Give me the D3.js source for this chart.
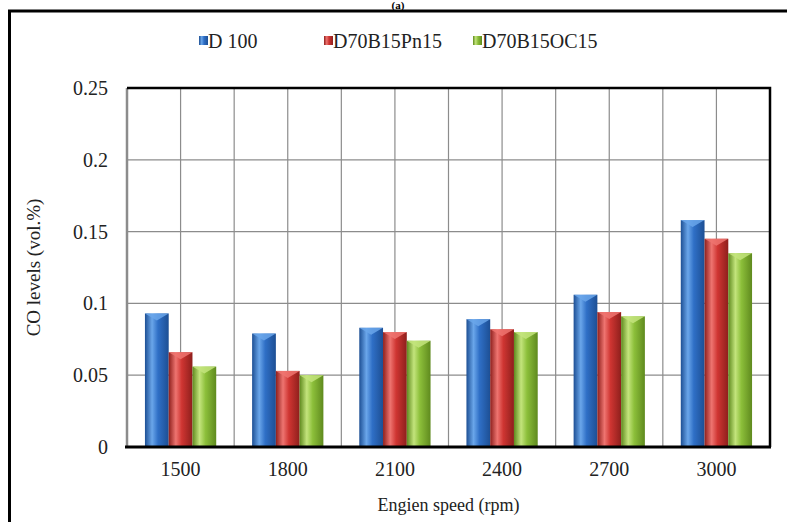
<!DOCTYPE html>
<html>
<head>
<meta charset="utf-8">
<script src="https://cdn.jsdelivr.net/npm/d3@7/dist/d3.min.js"></script>
<style>
  body { margin: 0; background: #fff; }
  svg { display: block; font-family: "Liberation Serif", "Times New Roman", serif; }
</style>
</head>
<body>
<div id="chart"></div>
<script>
// data
const speeds = ['1500', '1800', '2100', '2400', '2700', '3000'];
const seriesNames = ['D 100', 'D70B15Pn15', 'D70B15OC15'];
const d100 = [0.093, 0.079, 0.083, 0.089, 0.106, 0.158];
const pn15 = [0.066, 0.053, 0.080, 0.082, 0.094, 0.145];
const oc15 = [0.056, 0.050, 0.074, 0.080, 0.091, 0.135];
const yTicks = [0, 0.05, 0.1, 0.15, 0.2, 0.25];

const width = 787;
const height = 522;
const margin = { top: 88, right: 17, bottom: 75, left: 127 };

// colours per series: edge, mid, highlight
const palette = [
  { edge: '#1d4f94', mid: '#2f6fc6', light: '#6aa6ea' },
  { edge: '#8e1f1c', mid: '#cf3532', light: '#ee7470' },
  { edge: '#5f8a1e', mid: '#8cbf3a', light: '#c3e47c' }
];

const svg = d3.select('#chart').append('svg')
  .attr('width', width)
  .attr('height', height);

// gradients for the 3d look
const defs = svg.append('defs');
palette.forEach((c, i) => {
  const g = defs.append('linearGradient')
    .attr('id', 'grad' + i)
    .attr('x1', '0%').attr('x2', '100%').attr('y1', '0%').attr('y2', '0%');
  g.append('stop').attr('offset', '0%').attr('stop-color', c.edge);
  g.append('stop').attr('offset', '30%').attr('stop-color', c.light);
  g.append('stop').attr('offset', '55%').attr('stop-color', c.mid);
  g.append('stop').attr('offset', '100%').attr('stop-color', c.edge);
});

// outer frame
svg.append('rect')
  .attr('x', 9.5).attr('y', 11)
  .attr('width', 800).attr('height', 600)
  .attr('fill', 'none')
  .attr('stroke', '#000')
  .attr('stroke-width', 3);

// panel label
svg.append('text')
  .attr('x', 398)
  .attr('y', 9)
  .attr('text-anchor', 'middle')
  .attr('font-weight', 'bold')
  .attr('font-size', 11)
  .text('(a)');

const x0 = d3.scaleBand()
  .domain(speeds)
  .range([margin.left, width - margin.right])
  .padding(0);

const groupW = x0.bandwidth() * 0.665;
const x1 = d3.scaleBand()
  .domain(seriesNames)
  .range([(x0.bandwidth() - groupW) / 2, (x0.bandwidth() + groupW) / 2]);

const y = d3.scaleLinear()
  .domain([0, 0.25])
  .range([height - margin.bottom, margin.top]);

const plotL = margin.left;
const plotR = width - margin.right;
const plotT = margin.top;
const plotB = height - margin.bottom;

// horizontal grid
svg.append('g')
  .selectAll('line')
  .data(yTicks)
  .enter()
  .append('line')
  .attr('x1', plotL).attr('x2', plotR)
  .attr('y1', d => y(d)).attr('y2', d => y(d))
  .attr('stroke', '#8c8c8c')
  .attr('stroke-width', 1.2);

// vertical grid at category edges and centres
const vLines = [];
speeds.forEach(s => {
  vLines.push(x0(s));
  vLines.push(x0(s) + x0.bandwidth() / 2);
});
svg.append('g')
  .selectAll('line')
  .data(vLines.slice(1))
  .enter()
  .append('line')
  .attr('x1', d => d).attr('x2', d => d)
  .attr('y1', plotT).attr('y2', plotB)
  .attr('stroke', '#8c8c8c')
  .attr('stroke-width', 1.2);

// left axis line (grey)
svg.append('line')
  .attr('x1', plotL).attr('x2', plotL)
  .attr('y1', plotT).attr('y2', plotB)
  .attr('stroke', '#8c8c8c')
  .attr('stroke-width', 2.5);

// bars
const rows = speeds.map((s, i) => ({ speed: s, values: [d100[i], pn15[i], oc15[i]] }));
const bw = x1.bandwidth();
const groups = svg.append('g')
  .selectAll('g')
  .data(rows)
  .enter()
  .append('g')
  .attr('transform', d => `translate(${x0(d.speed)},0)`);

groups.selectAll('rect')
  .data(d => d.values.map((v, k) => ({ k, v })))
  .enter()
  .append('rect')
  .attr('x', d => x1(seriesNames[d.k]))
  .attr('y', d => y(d.v))
  .attr('width', bw)
  .attr('height', d => plotB - y(d.v))
  .attr('fill', d => `url(#grad${d.k})`);

// bevelled tops
groups.selectAll('path')
  .data(d => d.values.map((v, k) => ({ k, v })))
  .enter()
  .append('path')
  .attr('d', d => {
    const bx = x1(seriesNames[d.k]);
    const by = y(d.v);
    return `M${bx},${by} L${bx + bw},${by} L${bx + bw / 2},${by + 7} Z`;
  })
  .attr('fill', d => palette[d.k].light)
  .attr('opacity', 0.85);

// top, right and bottom borders of plot (black)
svg.append('path')
  .attr('d', `M${plotL},${plotT} L${plotR},${plotT} L${plotR},${plotB}`)
  .attr('fill', 'none')
  .attr('stroke', '#000')
  .attr('stroke-width', 2.5);
svg.append('line')
  .attr('x1', plotL - 2).attr('x2', plotR + 1)
  .attr('y1', plotB).attr('y2', plotB)
  .attr('stroke', '#000')
  .attr('stroke-width', 3);

// y axis labels
const yAxis = svg.append('g')
  .attr('transform', `translate(${plotL - 16},0)`)
  .call(d3.axisLeft(y).tickValues(yTicks).tickSize(0).tickFormat(d => d3.format('')(+d.toFixed(2))));
yAxis.select('.domain').remove();
yAxis.selectAll('text')
  .attr('font-family', '"Liberation Serif", serif')
  .attr('font-size', 20)
  .attr('fill', '#222');

// x axis labels
const xAxis = svg.append('g')
  .attr('transform', `translate(0,${plotB + 12})`)
  .call(d3.axisBottom(x0).tickSize(0));
xAxis.select('.domain').remove();
xAxis.selectAll('text')
  .attr('font-family', '"Liberation Serif", serif')
  .attr('font-size', 20)
  .attr('fill', '#222');

// axis titles
svg.append('text')
  .attr('x', (plotL + plotR) / 2)
  .attr('y', 511)
  .attr('text-anchor', 'middle')
  .attr('font-size', 18)
  .attr('fill', '#222')
  .text('Engien speed (rpm)');

svg.append('text')
  .attr('transform', `translate(40,${(plotT + plotB) / 2}) rotate(-90)`)
  .attr('text-anchor', 'middle')
  .attr('font-size', 19)
  .attr('fill', '#222')
  .text('CO levels (vol.%)');

// legend
const legendX = [199, 324, 473];
const legend = svg.append('g')
  .selectAll('g')
  .data(seriesNames)
  .enter()
  .append('g')
  .attr('transform', (d, i) => `translate(${legendX[i]},41)`);
legend.append('rect')
  .attr('x', 0).attr('y', -5)
  .attr('width', 9).attr('height', 9)
  .attr('fill', (d, i) => `url(#grad${i})`);
legend.append('text')
  .attr('x', 9)
  .attr('y', 7)
  .attr('font-size', 20)
  .attr('fill', '#222')
  .text(d => d);
</script>
</body>
</html>
